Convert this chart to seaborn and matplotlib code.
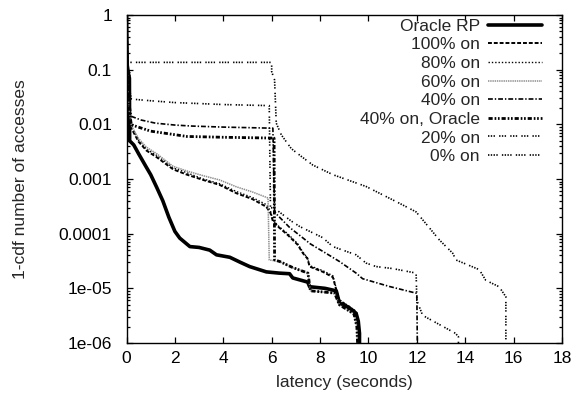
import matplotlib
matplotlib.use("Agg")
import matplotlib.pyplot as plt
import numpy as np
import pandas as pd
import seaborn as sns
from matplotlib.ticker import LogLocator, NullFormatter, FixedLocator

# ---------------- data ----------------
series_names = ["Oracle RP", "100% on", "80% on", "60% on", "40% on",
                "40% on, Oracle", "20% on", "0% on"]

oracle_x = [0, 0.03, 0.08, 0.12, 0.13, 0.3, 0.5, 0.8, 1.0, 1.25, 1.5, 1.75,
            2.0, 2.2, 2.62, 3.0, 3.44, 3.72, 4.27, 4.7, 5.09, 5.78, 6.3, 6.74,
            6.87, 7.49, 7.57, 8.2, 8.67, 8.8, 9.2, 9.49, 9.58, 9.63, 9.63]
oracle_y = [1, 0.12, 0.085, 0.07, 0.005, 0.0042, 0.0029, 0.0017, 0.0012,
            7e-4, 4e-4, 2e-4, 1.1e-4, 8.3e-5, 5.8e-5, 5.6e-5, 5.0e-5, 4.1e-5,
            3.7e-5, 3.0e-5, 2.5e-5, 2.0e-5, 1.9e-5, 1.85e-5, 1.55e-5, 1.3e-5,
            1.07e-5, 1.0e-5, 9.0e-6, 5.4e-6, 4.4e-6, 3.5e-6, 2.5e-6, 1.5e-6, 1e-6]

on100_x = [0, 0.03, 0.1, 0.2, 0.5, 0.83, 1.25, 1.93, 2.5, 3.17, 3.85, 4.54,
           5.2, 5.78, 5.95, 6.05, 6.26, 6.66, 7.07, 7.29, 7.48, 7.57, 8.12,
           8.53, 8.67, 8.8, 9.2, 9.49, 9.58, 9.62]
on100_y = [1, 0.1, 0.02, 0.0085, 0.0048, 0.0033, 0.0025, 0.0015, 0.0012,
           9.6e-4, 7.8e-4, 5.5e-4, 4.3e-4, 3.1e-4, 2.4e-4, 1.7e-4, 1.35e-4,
           9.5e-5, 6.3e-5, 4.4e-5, 3.5e-5, 2.5e-5, 2.0e-5, 1.6e-5, 9.4e-6,
           6e-6, 4.6e-6, 3.7e-6, 2.5e-6, 1e-6]

on80_x = [0, 0.03, 0.1, 0.2, 0.5, 0.83, 1.25, 1.93, 2.5, 3.17, 3.85, 4.54,
          5.2, 5.78, 5.95, 6.05, 6.26, 6.66, 7.07, 7.29, 7.48, 7.57, 8.12,
          8.53, 8.67, 8.8, 9.2, 9.49, 9.58, 9.62]
on80_y = [1, 0.1, 0.02, 0.009, 0.0051, 0.0035, 0.0027, 0.0016, 0.0013,
          1.0e-3, 8.2e-4, 5.9e-4, 4.6e-4, 3.4e-4, 2.6e-4, 1.8e-4, 1.4e-4,
          1.0e-4, 6.6e-5, 4.6e-5, 3.6e-5, 2.6e-5, 2.1e-5, 1.7e-5, 1.0e-5,
          6.2e-6, 4.7e-6, 3.8e-6, 2.6e-6, 1e-6]

on60_x = [0, 0.03, 0.1, 0.2, 0.5, 0.83, 1.25, 1.93, 2.5, 3.17, 3.85, 4.54,
          5.2, 5.85, 5.9, 6.33, 6.87, 7.5, 7.6, 8.6, 8.8, 9.4, 9.52, 9.55]
on60_y = [1, 0.1, 0.02, 0.0095, 0.0055, 0.0038, 0.0029, 0.0017, 0.0014,
          1.15e-3, 9.6e-4, 7.2e-4, 5.8e-4, 4.5e-4, 3.3e-5, 3.1e-5, 2.4e-5,
          1.9e-5, 9e-6, 8.2e-6, 5e-6, 3.4e-6, 2e-6, 1e-6]

on40_x = [0, 0.03, 0.1, 0.2, 0.6, 1.2, 2.0, 2.7, 4.0, 6.05, 6.12, 6.19,
          6.74, 7.2, 7.6, 8.2, 8.8, 9.49, 9.76, 10.87, 12.0, 12.02]
on40_y = [1, 0.12, 0.03, 0.014, 0.012, 0.0105, 0.0097, 0.0093, 0.0089,
          0.0085, 2.6e-4, 2.3e-4, 1.3e-4, 9e-5, 6.5e-5, 4.5e-5, 3.1e-5,
          1.9e-5, 1.5e-5, 1.08e-5, 8.1e-6, 1e-6]

on40o_x = [0, 0.03, 0.1, 0.2, 1.0, 2.5, 4.0, 6.1, 6.12, 6.33, 6.87, 7.5,
           7.6, 8.6, 8.8, 9.4, 9.52, 9.55]
on40o_y = [1, 0.1, 0.02, 0.0098, 0.0075, 0.006, 0.0058, 0.0056, 3.3e-5,
           3.1e-5, 2.4e-5, 1.9e-5, 9e-6, 8.2e-6, 5e-6, 3.4e-6, 2e-6, 1e-6]

on20_x = [0, 0.03, 0.1, 0.2, 1.0, 2.0, 3.0, 4.0, 5.9, 5.95, 6.12, 6.81, 7.16,
          8.1, 8.53, 9.49, 9.9, 10.32, 11.0, 11.97, 12.0, 12.24, 13.6, 13.72,
          13.72]
on20_y = [1, 0.15, 0.05, 0.029, 0.027, 0.025, 0.024, 0.023, 0.022, 3.0e-4,
          2.9e-4, 1.7e-4, 1.35e-4, 8.5e-5, 5.8e-5, 4.1e-5, 2.9e-5, 2.5e-5,
          2.3e-5, 1.9e-5, 6e-6, 3.2e-6, 1.5e-6, 1.3e-6, 1e-6]

on0_x = [0, 0.02, 0.05, 6.0, 6.0, 6.12, 6.19, 6.4, 6.81, 7.22, 7.7, 8.53,
         9.9, 11.28, 11.97, 12.24, 12.93, 13.48, 13.62, 14.58, 14.85, 15.4,
         15.68, 15.68]
on0_y = [1, 0.3, 0.136, 0.136, 0.092, 0.065, 0.0105, 0.0064, 0.0036, 0.0026,
         0.0018, 0.0012, 7.3e-4, 3.6e-4, 2.5e-4, 1.8e-4, 7.7e-5, 4.4e-5,
         3.3e-5, 2.2e-5, 1.4e-5, 1.07e-5, 7e-6, 1e-6]

x_ticks = [0, 2, 4, 6, 8, 10, 12, 14, 16, 18]
y_ticks = [1e-6, 1e-5, 1e-4, 1e-3, 1e-2, 1e-1, 1]
y_tick_labels = ["1e-06", "1e-05", "0.0001", "0.001", "0.01", "0.1", "1"]

# ---------------- styling ----------------
sns.set_style("ticks")
plt.rcParams['font.family'] = ['Liberation Sans', 'DejaVu Sans']
plt.rcParams['lines.scale_dashes'] = False
FS = 12.5

fig = plt.figure(figsize=(5.77, 4.08), dpi=100)
ax = fig.add_axes([126.5 / 577, 1 - 343 / 408, (562 - 126.5) / 577, (343 - 15) / 408])

data = [
    (oracle_x, oracle_y, dict(color="black", lw=2.6, ls="-")),
    (on100_x, on100_y, dict(color="black", lw=1.4, ls=(0, (2.8, 1.4)))),
    (on80_x, on80_y, dict(color="black", lw=1.0, ls=(0, (1.0, 1.4)))),
    (on60_x, on60_y, dict(color="#8c8c8c", lw=1.1, ls=(0, (1.0, 0.6)))),
    (on40_x, on40_y, dict(color="black", lw=1.2, ls=(0, (3.5, 1.4, 1.0, 1.4)))),
    (on40o_x, on40o_y, dict(color="black", lw=2.0, ls=(0, (3.0, 1.4, 1.2, 1.2, 1.2, 1.4)))),
    (on20_x, on20_y, dict(color="black", lw=1.2, ls=(0, (1, 1, 1, 1, 1, 3)))),
    (on0_x, on0_y, dict(color="black", lw=1.2, ls=(0, (1, 1, 1, 1, 1, 1, 1, 3)))),
]

handles = []
for name, (xs, ys, st) in zip(series_names, data):
    df = pd.DataFrame({"latency": xs, "ccdf": ys})
    n_before = len(ax.lines)
    sns.lineplot(data=df, x="latency", y="ccdf", ax=ax, sort=False,
                 estimator=None, color=st["color"], linewidth=st["lw"])
    line = ax.lines[n_before]
    line.set_linestyle(st["ls"])
    line.set_label(name)
    handles.append(line)

ax.set_yscale("log")
ax.set_xlim(0, 18)
ax.set_ylim(1e-6, 1)
ax.set_xticks(x_ticks)
ax.set_xticklabels([str(t) for t in x_ticks])
ax.yaxis.set_major_locator(FixedLocator(y_ticks))
ax.set_yticklabels(y_tick_labels)
ax.yaxis.set_minor_locator(LogLocator(base=10, subs=np.arange(2, 10), numticks=20))
ax.yaxis.set_minor_formatter(NullFormatter())

ax.tick_params(which="both", direction="in", top=True, right=True,
               colors="black", labelsize=FS, width=0.9)
ax.tick_params(which="major", length=4.5)
ax.tick_params(which="minor", length=2.3)
ax.tick_params(axis="y", which="major", pad=10.5)
ax.tick_params(axis="x", which="major", pad=5.5)
for s in ax.spines.values():
    s.set_visible(True)
    s.set_linewidth(1.0)
    s.set_color("black")

ax.set_xlabel("latency (seconds)", fontsize=FS, labelpad=7)
ax.set_ylabel("1-cdf number of accesses", fontsize=FS, labelpad=22)

leg = ax.legend(handles=handles, loc="upper right", markerfirst=False,
                frameon=False, fontsize=FS, handlelength=3.1,
                handletextpad=0.45, labelspacing=0.2,
                bbox_to_anchor=(0.969, 1.01), borderaxespad=0.0)

fig.savefig("out.png", dpi=100)
